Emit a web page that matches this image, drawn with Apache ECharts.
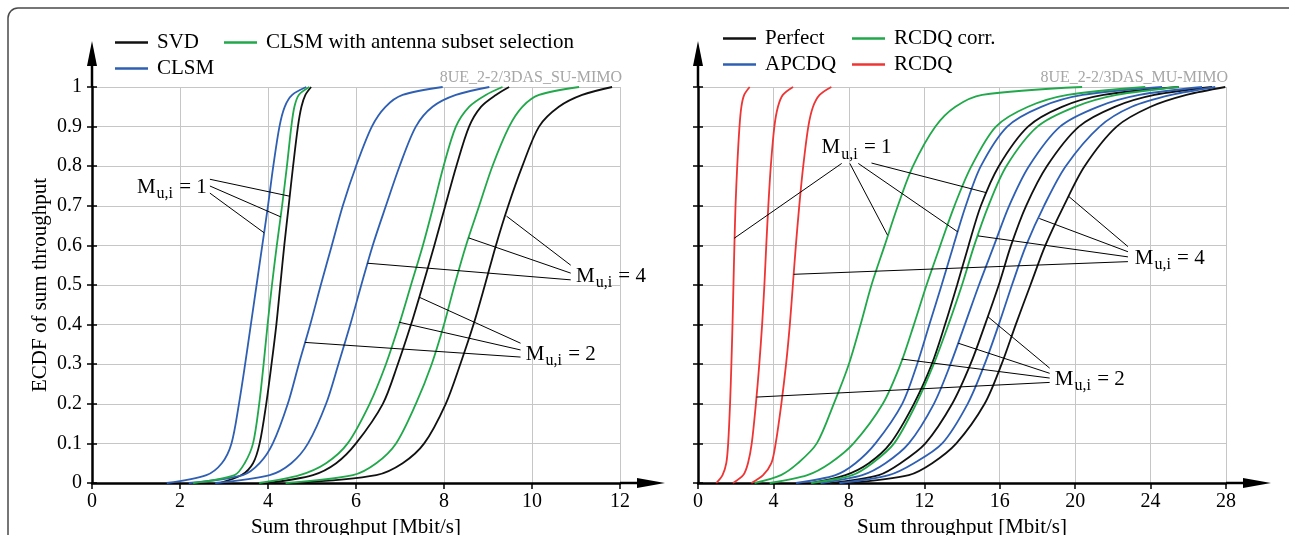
<!DOCTYPE html>
<html>
<head>
<meta charset="utf-8">
<title>ECDF of sum throughput</title>
<script src="https://cdn.jsdelivr.net/npm/echarts@6/dist/echarts.min.js"></script>
<style>
  html, body { margin: 0; padding: 0; background: #fff; }
  #chart { width: 1289px; height: 535px; }
</style>
</head>
<body>
<div id="chart"></div>
<script>
// ECDF levels, shared by every curve
const yLevels = [0, 0.02, 0.05, 0.1, 0.2, 0.3, 0.4, 0.5, 0.6, 0.7, 0.8, 0.9, 0.95, 0.98, 1];

// left panel (SU-MIMO): sum throughput [Mbit/s] reached at each ECDF level
const svdM1 = [2.9, 3.4, 3.66, 3.81, 3.96, 4.08, 4.19, 4.28, 4.37, 4.47, 4.57, 4.68, 4.76, 4.85, 4.98];
const svdM2 = [4.0, 5.02, 5.55, 6.0, 6.61, 6.95, 7.25, 7.52, 7.78, 8.03, 8.28, 8.57, 8.84, 9.18, 9.48];
const svdM4 = [4.6, 6.46, 7.06, 7.55, 8.04, 8.37, 8.67, 8.93, 9.18, 9.46, 9.78, 10.16, 10.61, 11.14, 11.82];
const clsmM1 = [1.7, 2.6, 2.95, 3.17, 3.34, 3.48, 3.61, 3.74, 3.87, 4.0, 4.12, 4.26, 4.38, 4.55, 4.87];
const clsmM2 = [2.2, 3.43, 3.81, 4.11, 4.45, 4.7, 4.96, 5.2, 5.45, 5.7, 6.0, 6.36, 6.67, 7.06, 7.97];
const clsmM4 = [2.8, 4.04, 4.53, 4.91, 5.32, 5.6, 5.87, 6.12, 6.38, 6.68, 6.99, 7.36, 7.74, 8.27, 9.03];
const clsmAsM1 = [2.3, 3.24, 3.47, 3.66, 3.8, 3.9, 3.99, 4.09, 4.2, 4.32, 4.43, 4.53, 4.6, 4.7, 4.94];
const clsmAsM2 = [3.8, 4.72, 5.32, 5.81, 6.31, 6.68, 6.98, 7.25, 7.52, 7.76, 7.99, 8.27, 8.57, 8.95, 9.33];
const clsmAsM4 = [4.4, 5.93, 6.46, 6.91, 7.36, 7.72, 8.0, 8.24, 8.5, 8.8, 9.1, 9.48, 9.78, 10.16, 11.07];

// right panel (MU-MIMO)
const perfectM1 = [6.0, 7.82, 9.06, 10.2, 11.45, 12.4, 13.1, 13.74, 14.35, 15.0, 15.95, 17.5, 19.3, 21.5, 25.49];
const perfectM2 = [7.0, 9.59, 10.74, 12.06, 13.48, 14.45, 15.22, 15.95, 16.6, 17.4, 18.5, 20.2, 22.1, 24.2, 27.26];
const perfectM4 = [8.0, 11.18, 12.42, 13.7, 15.2, 16.1, 16.85, 17.63, 18.42, 19.4, 20.5, 22.2, 24.0, 25.9, 27.96];
const apcdqM1 = [5.2, 7.29, 8.35, 9.41, 10.83, 11.62, 12.27, 12.92, 13.55, 14.2, 15.0, 16.4, 18.2, 20.4, 24.61];
const apcdqM2 = [6.5, 8.71, 9.94, 11.18, 12.51, 13.39, 14.15, 14.9, 15.7, 16.5, 17.55, 19.2, 21.2, 23.4, 26.73];
const apcdqM4 = [7.5, 10.12, 11.45, 12.95, 14.3, 15.2, 15.95, 16.65, 17.4, 18.35, 19.5, 21.3, 23.0, 25.1, 27.43];
const rcdqCorrM1 = [3.0, 4.4, 5.3, 6.3, 7.2, 8.0, 8.62, 9.2, 9.9, 10.6, 11.4, 12.59, 13.65, 15.07, 20.37];
const rcdqCorrM2 = [3.8, 5.8, 7.0, 8.25, 9.8, 10.74, 11.45, 12.12, 12.85, 13.6, 14.5, 15.8, 17.5, 19.6, 23.72];
const rcdqCorrM4 = [6.0, 8.18, 9.24, 10.4, 11.57, 12.5, 13.28, 14.0, 14.65, 15.4, 16.35, 18.0, 20.0, 22.2, 25.49];
const rcdqM1 = [0.97, 1.3, 1.5, 1.6, 1.7, 1.77, 1.83, 1.88, 1.93, 1.99, 2.08, 2.2, 2.3, 2.45, 2.74];
const rcdqM2 = [1.86, 2.4, 2.65, 2.85, 3.07, 3.25, 3.4, 3.52, 3.62, 3.73, 3.86, 4.05, 4.24, 4.5, 5.04];
const rcdqM4 = [2.83, 3.45, 3.89, 4.12, 4.42, 4.67, 4.87, 5.03, 5.19, 5.37, 5.58, 5.85, 6.1, 6.45, 7.07];

const leftNames = ['SVD', 'CLSM', 'CLSM with antenna subset selection'];
const rightNames = ['Perfect', 'APCDQ', 'RCDQ corr.', 'RCDQ'];

// annotations: label anchor [x, y] and leader lines [start, end] in data units
const leftM1Text = [1.02, 0.745];
const leftM1Lines = [[[2.68, 0.767], [4.5, 0.724]], [[2.68, 0.75], [4.29, 0.672]], [[2.68, 0.732], [3.91, 0.632]]];
const leftM4Text = [11.0, 0.52];
const leftM4Lines = [[[10.88, 0.55], [9.42, 0.674]], [[10.88, 0.53], [8.56, 0.619]], [[10.88, 0.513], [6.26, 0.555]]];
const leftM2Text = [9.86, 0.323];
const leftM2Lines = [[[9.74, 0.353], [7.44, 0.469]], [[9.74, 0.336], [6.98, 0.406]], [[9.74, 0.318], [4.84, 0.355]]];
const rightM1Text = [6.55, 0.845];
const rightM1Lines = [[[7.62, 0.807], [1.92, 0.618]], [[8.05, 0.807], [10.05, 0.626]], [[8.5, 0.807], [13.78, 0.634]], [[9.2, 0.808], [15.3, 0.733]]];
const rightM4Text = [23.16, 0.566];
const rightM4Lines = [[[22.8, 0.597], [19.65, 0.724]], [[22.8, 0.584], [18.1, 0.668]], [[22.8, 0.571], [14.85, 0.624]], [[22.8, 0.559], [5.07, 0.527]]];
const rightM2Text = [18.92, 0.261];
const rightM2Lines = [[[18.65, 0.29], [15.37, 0.42]], [[18.65, 0.277], [13.8, 0.353]], [[18.65, 0.265], [10.8, 0.313]], [[18.65, 0.254], [3.1, 0.217]]];

const FONT = "'Liberation Serif', 'Times New Roman', serif";
const BLACK = '#111111';
const BLUE = '#2e5fb3';
const GREEN = '#20a84a';
const RED = '#ef3434';

function curve(name, color, xs, axisIdx) {
  return {
    name: name,
    type: 'line',
    xAxisIndex: axisIdx,
    yAxisIndex: axisIdx * 2,
    data: xs.map((x, i) => [x, yLevels[i]]),
    smooth: 0.3,
    showSymbol: false,
    symbol: 'none',
    itemStyle: { color: color },
    lineStyle: { color: color, width: 1.8 },
    z: 3
  };
}

function leaders(lines, axisIdx) {
  return lines.map(seg => ({
    type: 'line',
    xAxisIndex: axisIdx,
    yAxisIndex: axisIdx * 2,
    data: seg,
    symbol: 'none',
    silent: true,
    lineStyle: { color: '#000', width: 1 },
    z: 5
  }));
}

const series = [
  curve('SVD', BLACK, svdM1, 0), curve('SVD', BLACK, svdM2, 0), curve('SVD', BLACK, svdM4, 0),
  curve('CLSM', BLUE, clsmM1, 0), curve('CLSM', BLUE, clsmM2, 0), curve('CLSM', BLUE, clsmM4, 0),
  curve(leftNames[2], GREEN, clsmAsM1, 0), curve(leftNames[2], GREEN, clsmAsM2, 0), curve(leftNames[2], GREEN, clsmAsM4, 0),
  curve('Perfect', BLACK, perfectM1, 1), curve('Perfect', BLACK, perfectM2, 1), curve('Perfect', BLACK, perfectM4, 1),
  curve('APCDQ', BLUE, apcdqM1, 1), curve('APCDQ', BLUE, apcdqM2, 1), curve('APCDQ', BLUE, apcdqM4, 1),
  curve('RCDQ corr.', GREEN, rcdqCorrM1, 1), curve('RCDQ corr.', GREEN, rcdqCorrM2, 1), curve('RCDQ corr.', GREEN, rcdqCorrM4, 1),
  curve('RCDQ', RED, rcdqM1, 1), curve('RCDQ', RED, rcdqM2, 1), curve('RCDQ', RED, rcdqM4, 1)
].concat(
  leaders(leftM1Lines, 0), leaders(leftM4Lines, 0), leaders(leftM2Lines, 0),
  leaders(rightM1Lines, 1), leaders(rightM4Lines, 1), leaders(rightM2Lines, 1)
);

const labelStyle = { color: '#000', fontSize: 20, fontFamily: FONT };
const nameStyle = { color: '#000', fontSize: 21, fontFamily: FONT };

function xAxisOf(gridIdx, max, interval) {
  return {
    gridIndex: gridIdx, type: 'value', min: 0, max: max, interval: interval,
    name: 'Sum throughput [Mbit/s]', nameLocation: 'middle', nameGap: 25,
    nameTextStyle: nameStyle,
    axisLine: { onZero: false, lineStyle: { color: '#000', width: 2.5 } },
    axisTick: { length: 6, lineStyle: { color: '#000', width: 1.5 } },
    axisLabel: Object.assign({ margin: 9 }, labelStyle),
    splitLine: { lineStyle: { color: '#c6c6c6', width: 1 } }
  };
}

function yAxesOf(gridIdx, withLabels) {
  return [{
    gridIndex: gridIdx, type: 'value', min: 0, max: 1, interval: 0.1,
    position: 'left',
    name: withLabels ? 'ECDF of sum throughput' : '',
    nameLocation: 'middle', nameGap: 41, nameTextStyle: nameStyle,
    axisLine: { onZero: false, lineStyle: { color: '#000', width: 2.5 } },
    axisTick: { length: 5, lineStyle: { color: '#000', width: 1.5 } },
    axisLabel: Object.assign({ show: withLabels, margin: 10 }, labelStyle),
    splitLine: { lineStyle: { color: '#c6c6c6', width: 1 } }
  }, {
    // second copy only carries the tick half on the plot side
    gridIndex: gridIdx, type: 'value', min: 0, max: 1, interval: 0.1,
    position: 'left',
    axisLine: { show: false },
    axisTick: { inside: true, length: 5, lineStyle: { color: '#000', width: 1.5 } },
    axisLabel: { show: false },
    splitLine: { show: false }
  }];
}

function legendOf(names, left, top) {
  return {
    data: names, orient: 'vertical', left: left, top: top,
    icon: 'rect', itemWidth: 33, itemHeight: 2.5, itemGap: 5,
    textStyle: { color: '#000', fontSize: 21, fontFamily: FONT, padding: [0, 0, 0, 4] }
  };
}

const option = {
  animation: false,
  backgroundColor: '#fff',
  grid: [
    { left: 92, right: 669, top: 87, bottom: 52, outerBoundsMode: 'none' },
    { left: 698, right: 63, top: 87, bottom: 52, outerBoundsMode: 'none' }
  ],
  xAxis: [xAxisOf(0, 12, 2), xAxisOf(1, 28, 4)],
  yAxis: yAxesOf(0, true).concat(yAxesOf(1, false)),
  legend: [
    legendOf(leftNames.slice(0, 2), 110, 27),
    legendOf(leftNames.slice(2), 219, 27),
    legendOf(rightNames.slice(0, 2), 718, 23),
    legendOf(rightNames.slice(2), 847, 23)
  ],
  series: series
};

const chart = echarts.init(document.getElementById('chart'), null, { renderer: 'canvas' });
chart.setOption(option);

// decorations placed from the axes' own pixel mapping
function px(gridIdx, pt) { return chart.convertToPixel({ gridIndex: gridIdx }, pt); }

function arrows(gridIdx, xMax) {
  const o = px(gridIdx, [0, 0]);
  const xe = px(gridIdx, [xMax, 0]);
  const ye = px(gridIdx, [0, 1]);
  const xTip = xe[0] + 45;
  const yTip = ye[1] - 46;
  return [
    { type: 'line', shape: { x1: xe[0], y1: o[1], x2: xTip - 20, y2: o[1] }, style: { stroke: '#000', lineWidth: 2.5 } },
    { type: 'polygon', shape: { points: [[xTip, o[1]], [xTip - 28, o[1] - 5], [xTip - 28, o[1] + 5]] }, style: { fill: '#000' } },
    { type: 'line', shape: { x1: o[0], y1: ye[1], x2: o[0], y2: yTip + 20 }, style: { stroke: '#000', lineWidth: 2.5 } },
    { type: 'polygon', shape: { points: [[o[0], yTip], [o[0] - 5, yTip + 25], [o[0] + 5, yTip + 25]] }, style: { fill: '#000' } }
  ];
}

function muLabel(gridIdx, at, value) {
  const p = px(gridIdx, at);
  return {
    type: 'text', x: p[0], y: p[1], z: 10,
    style: {
      text: '{m|M}{s|u,i}{m| = ' + value + '}',
      align: 'left', verticalAlign: 'middle',
      rich: {
        m: { fontSize: 21, fontFamily: FONT, fill: '#000', lineHeight: 22, verticalAlign: 'top' },
        s: { fontSize: 16, fontFamily: FONT, fill: '#000', lineHeight: 16, verticalAlign: 'top', padding: [9, 1, 0, 1] }
      }
    }
  };
}

function tag(gridIdx, xMax, text) {
  const p = px(gridIdx, [xMax, 1]);
  return {
    type: 'text', x: p[0] + 2, y: p[1] - 1, z: 10,
    style: { text: text, align: 'right', verticalAlign: 'bottom', fontSize: 16, fontFamily: FONT, fill: '#a6a6a6' }
  };
}

chart.setOption({
  graphic: [
    { type: 'rect', shape: { x: 8, y: 8, width: 1330, height: 600, r: 10 }, style: { fill: 'none', stroke: '#4a4a4a', lineWidth: 1.5 }, z: -1 }
  ].concat(
    arrows(0, 12), arrows(1, 28),
    [
      tag(0, 12, '8UE_2-2/3DAS_SU-MIMO'),
      tag(1, 28, '8UE_2-2/3DAS_MU-MIMO'),
      muLabel(0, leftM1Text, 1), muLabel(0, leftM4Text, 4), muLabel(0, leftM2Text, 2),
      muLabel(1, rightM1Text, 1), muLabel(1, rightM4Text, 4), muLabel(1, rightM2Text, 2)
    ]
  )
});
</script>
</body>
</html>
